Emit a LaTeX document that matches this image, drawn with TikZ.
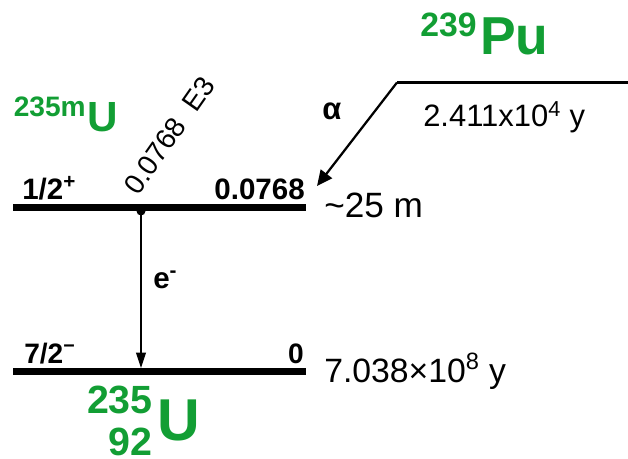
\documentclass[tikz,border=0pt]{standalone}
\usepackage{fontspec}
\setmainfont{Liberation Sans}
\usetikzlibrary{arrows.meta,positioning}
\definecolor{NucGreen}{RGB}{18,158,52}
\newcommand{\fsz}[1]{\fontsize{#1}{#1}\selectfont}
\tikzset{
  level/.style={line width=5.6pt},
  parent/.style={line width=2.8pt},
  decay/.style={-{Triangle[length=11pt,width=10pt]},line width=1.6pt},
  trans/.style={-{Triangle[length=11pt,width=7pt]},line width=0.8pt},
  lab/.style={inner sep=0pt,font=\fsz{21}\bfseries},
  half/.style={inner sep=0pt,font=\fsz{24}},
  nuc/.style={inner sep=0pt,text=NucGreen,font=\bfseries}
}

\begin{document}
\begin{tikzpicture}[x=0.025cm,y=-0.025cm]
\useasboundingbox (0,0) rectangle (628,458);

% levels
\coordinate (m0) at (13,207.5);
\coordinate (m1) at (306,207.5);
\coordinate (g0) at (13,371.5);
\coordinate (g1) at (306,371.5);
\coordinate (p0) at (397,82.5);
\coordinate (p1) at (628,82.5);
\coordinate (atip) at (317,186);
\coordinate (etop) at (141,211);
\coordinate (ebot) at (141,368);

\draw[level] (m0) -- (m1);
\draw[level] (g0) -- (g1);
\draw[parent] (p0) -- (p1);

% transitions
\draw[decay] (p0) -- (atip);
\fill (etop) circle (4.5);
\draw[trans] (etop) -- (ebot);

% level labels
\node[lab,anchor=base west] (spinm) at (22,199) {1/2\textsuperscript{+}};
\node[lab,anchor=base east] (enm) at (305,199) {0.0768};
\node[lab,anchor=base west,font=\fsz{20}\bfseries] (sping) at (24,363) {7/2\textsuperscript{−}};
\node[lab,anchor=base east,font=\fsz{20}\bfseries] (eng) at (304,363) {0};
\node[half,font=\fsz{25},anchor=base west] (tm) at (324,217) {\textasciitilde25 m};
\node[half,anchor=base west] (tg) at (324,382) {7.038×10\textsuperscript{8} y};
\node[half,font=\fsz{22},anchor=base west] (tp) at (423,127) {2.411x10\textsuperscript{4} y};
\node[lab,font=\fsz{22}\bfseries] (alpha) at (332,111) {α};
\node[lab,font=\fsz{21}\bfseries,anchor=base west] (elec) at (153,288) {e\textsuperscript{-}};
\node[inner sep=0pt,font=\fsz{20},rotate=55,anchor=base west] (gam) at (138,197) {0.0768\ \ E3};

% nuclides
\node[nuc,font=\fsz{38}\bfseries,anchor=base west] (pusym) at (480,55) {Pu};
\node[nuc,font=\fsz{24}\bfseries,anchor=base east] (pumass) at (477,37) {239};
\node[nuc,font=\fsz{30}\bfseries,anchor=base west] (umsym) at (87,132) {U};
\node[nuc,font=\fsz{20}\bfseries,anchor=base east] (ummass) at (86,117) {235m};
\node[nuc,font=\fsz{42}\bfseries,anchor=base west] (usym) at (157,440) {U};
\node[nuc,font=\fsz{28}\bfseries,anchor=base east] (umass) at (153,413) {235};
\node[nuc,font=\fsz{28}\bfseries,anchor=base east] (uz) at (153,455) {92};
\end{tikzpicture}
\end{document}
